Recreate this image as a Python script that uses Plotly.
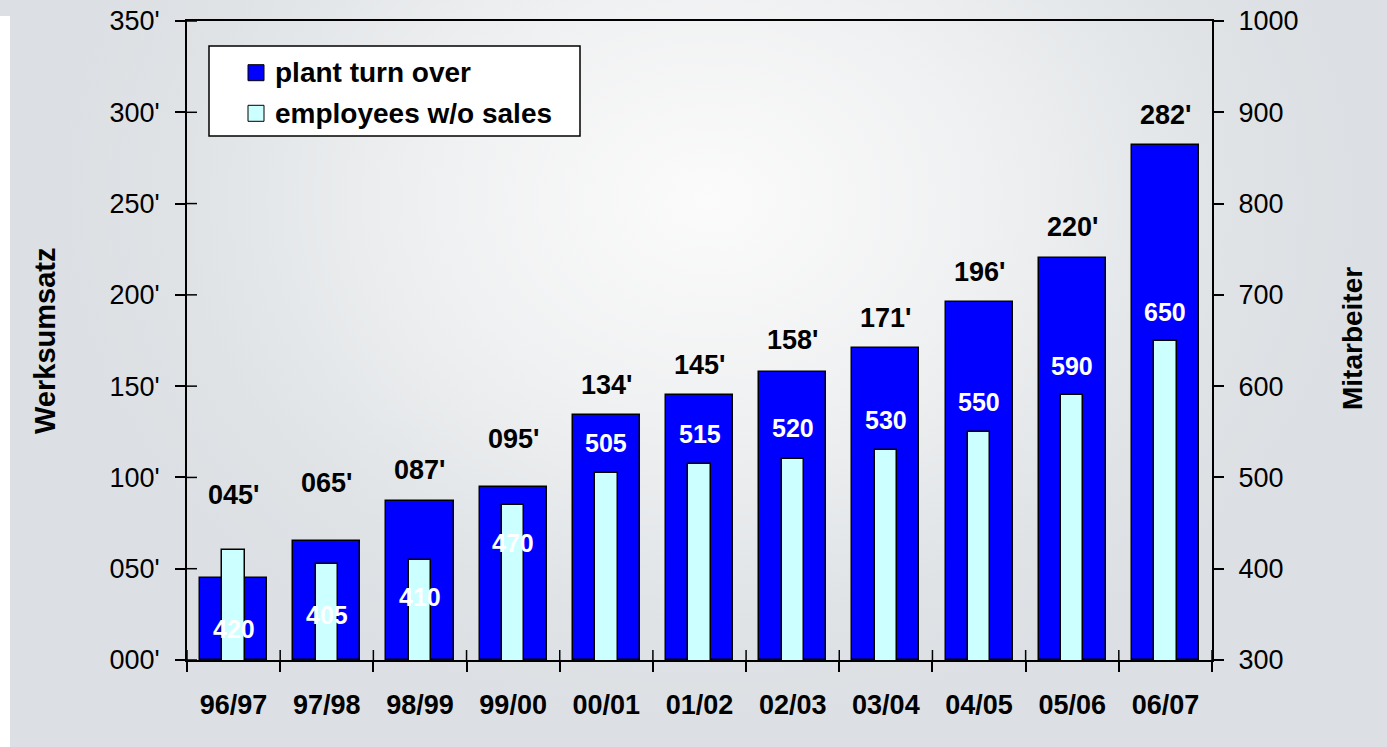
import base64
import plotly.graph_objects as go

# ---------------- data ----------------
categories = ["96/97", "97/98", "98/99", "99/00", "00/01", "01/02",
              "02/03", "03/04", "04/05", "05/06", "06/07"]
turnover = [45, 65, 87, 95, 134, 145, 158, 171, 196, 220, 282]
employees = [420, 405, 410, 470, 505, 515, 520, 530, 550, 590, 650]
turnover_labels = ["045'", "065'", "087'", "095'", "134'", "145'",
                   "158'", "171'", "196'", "220'", "282'"]
employee_labels = [str(v) for v in employees]
left_tickvals = [0, 50, 100, 150, 200, 250, 300, 350]
left_ticktext = ["000'", "050'", "100'", "150'", "200'", "250'", "300'", "350'"]
right_tickvals = [300, 400, 500, 600, 700, 800, 900, 1000]
right_ticktext = ["300", "400", "500", "600", "700", "800", "900", "1000"]
series_names = ["plant turn over", "employees w/o sales"]

# ---------------- styling ----------------
turnover_label_shift = [83, 58, 31, 48, 30, 30, 32, 30, 30, 31, 30]
employee_label_shift = [-79, -51, -37, -38, 30, 30, 31, 30, 30, 29, 29]
BLUE = "#0000FF"
CYAN = "#CCFFFF"
FONT = "Liberation Sans, Arial, sans-serif"

W, H = 1387, 747
ML, MR, MT, MB = 187, 175, 21, 87
PW, PH = W - ML - MR, H - MT - MB


def px_x(p):
    return (p - ML) / PW


def px_y(p):
    return 1 - (p - MT) / PH


# background (radial gradient + white strip at the left edge)
svg = f'''<svg xmlns="http://www.w3.org/2000/svg" width="{W}" height="{H}" viewBox="0 0 {W} {H}" preserveAspectRatio="none">
<defs><radialGradient id="g" gradientUnits="userSpaceOnUse" cx="710" cy="200" r="660"
 gradientTransform="translate(710 200) scale(1 0.8) translate(-710 -200)">
<stop offset="0" stop-color="#fbfbfb"/><stop offset="0.4" stop-color="#f0f1f2"/>
<stop offset="0.8" stop-color="#dfe3e6"/><stop offset="1" stop-color="#dce0e4"/></radialGradient></defs>
<rect width="{W}" height="{H}" fill="url(#g)"/>
<rect x="0" y="16" width="10" height="{H-16}" fill="#ffffff"/>
</svg>'''
bg_uri = "data:image/svg+xml;base64," + base64.b64encode(svg.encode()).decode()

fig = go.Figure()
fig.add_trace(go.Bar(
    x=categories, y=turnover, name=series_names[0], yaxis="y",
    width=0.72, marker=dict(color=BLUE, line=dict(color="black", width=1.5)),
    showlegend=False, hoverinfo="x+y"))
fig.add_trace(go.Bar(
    x=categories, y=employees, name=series_names[1], yaxis="y2",
    width=0.24,
    marker=dict(color=CYAN, line=dict(color="black", width=1.5)),
    showlegend=False, hoverinfo="x+y"))

annotations = []
for c, v, t, s in zip(categories, turnover, turnover_labels, turnover_label_shift):
    annotations.append(dict(x=c, y=v, xref="x", yref="y", text=t, showarrow=False,
                            yanchor="middle", yshift=s,
                            font=dict(family=FONT, size=27, color="black", weight="bold")))
for c, v, t, s in zip(categories, employees, employee_labels, employee_label_shift):
    annotations.append(dict(x=c, y=v, xref="x", yref="y2", text=t, showarrow=False,
                            yanchor="middle", yshift=s,
                            font=dict(family=FONT, size=25, color="white", weight="bold")))
# axis titles
annotations.append(dict(x=px_x(45), y=px_y(341), xref="paper", yref="paper", text="Werksumsatz",
                        textangle=-90, showarrow=False, xanchor="center", yanchor="middle",
                        font=dict(family=FONT, size=29, color="black", weight="bold")))
annotations.append(dict(x=px_x(1352), y=px_y(339), xref="paper", yref="paper", text="Mitarbeiter",
                        textangle=-90, showarrow=False, xanchor="center", yanchor="middle",
                        font=dict(family=FONT, size=28, color="black", weight="bold")))
# legend texts
legend_rows = [72.7, 113.3]
for name, row in zip(series_names, legend_rows):
    annotations.append(dict(x=px_x(273), y=px_y(row), xref="paper", yref="paper", text=name,
                            showarrow=False, xanchor="left", yanchor="middle",
                            font=dict(family=FONT, size=28, color="black", weight="bold")))

shapes = []
# legend box and swatches
shapes.append(dict(type="rect", xref="paper", yref="paper", x0=px_x(209), x1=px_x(580),
                   y0=px_y(46), y1=px_y(136), fillcolor="white",
                   line=dict(color="black", width=1.5), layer="above"))
for col, row in zip([BLUE, CYAN], legend_rows):
    shapes.append(dict(type="rect", xref="paper", yref="paper", x0=px_x(248), x1=px_x(264),
                       y0=px_y(row - 8), y1=px_y(row + 8), fillcolor=col,
                       line=dict(color="black", width=1), layer="above"))
# inner halves of the crossing ticks
for v in left_tickvals:
    shapes.append(dict(type="line", xref="paper", yref="y", x0=0, x1=10 / PW, y0=v, y1=v,
                       line=dict(color="black", width=1.5)))
for i in range(len(categories) + 1):
    shapes.append(dict(type="line", xref="x", yref="paper", x0=i - 0.5, x1=i - 0.5,
                       y0=0, y1=10 / PH, line=dict(color="black", width=1.5)))

fig.update_layout(
    width=W, height=H,
    margin=dict(l=ML, r=MR, t=MT, b=MB, autoexpand=False),
    paper_bgcolor="#dce0e4", plot_bgcolor="rgba(0,0,0,0)",
    barmode="overlay", bargap=0,
    font=dict(family=FONT, color="black"),
    images=[dict(source=bg_uri, xref="paper", yref="paper", x=-ML / PW, y=1 + MT / PH,
                 sizex=W / PW, sizey=H / PH, xanchor="left", yanchor="top",
                 sizing="stretch", layer="below")],
    xaxis=dict(type="category", range=[-0.5, len(categories) - 0.5],
               showline=True, linecolor="black", linewidth=2, mirror=True,
               ticks="outside", tickson="boundaries", ticklen=10, tickwidth=1.5,
               tickcolor="black", showgrid=False, zeroline=False,
               tickfont=dict(family=FONT, size=27, color="black", weight="bold"),
               ticklabelstandoff=20),
    yaxis=dict(range=[0, 350], tickvals=left_tickvals, ticktext=left_ticktext,
               showline=True, linecolor="black", linewidth=2,
               ticks="outside", ticklen=10, tickwidth=1.5, tickcolor="black",
               showgrid=False, zeroline=False,
               tickfont=dict(family=FONT, size=27, color="black"),
               ticklabelstandoff=10),
    yaxis2=dict(range=[300, 1000], tickvals=right_tickvals, ticktext=right_ticktext,
                overlaying="y", side="right", anchor="x",
                showline=True, linecolor="black", linewidth=2,
                ticks="outside", ticklen=10, tickwidth=1.5, tickcolor="black",
                showgrid=False, zeroline=False,
                tickfont=dict(family=FONT, size=27, color="black"),
                ticklabelstandoff=9),
    annotations=annotations, shapes=shapes,
)

fig.write_html("out.html", config={"displayModeBar": False},
               post_script="document.body.style.margin='0';document.body.style.overflow='hidden';")
